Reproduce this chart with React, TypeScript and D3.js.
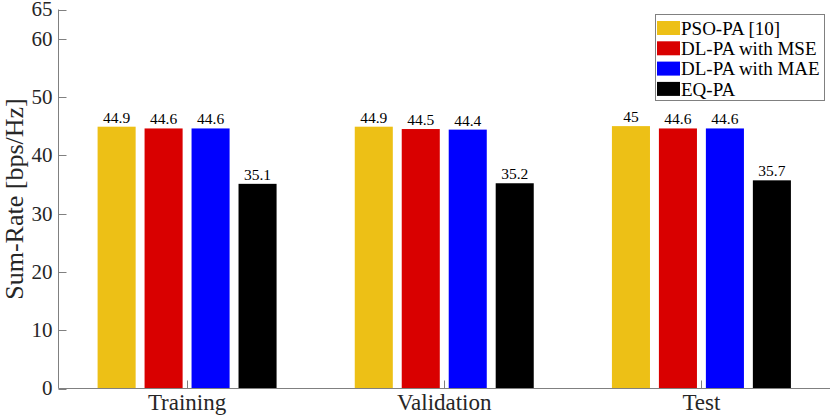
import { useEffect, useRef } from "react";
import * as d3 from "d3";

// categories and series
const categories = ["Training", "Validation", "Test"];
const seriesNames = ["PSO-PA [10]", "DL-PA with MSE", "DL-PA with MAE", "EQ-PA"];
const seriesColors = ["#EDC016", "#D90000", "#0000FF", "#000000"];

// values per series, one entry per category
const psoValues = [44.9, 44.9, 45];
const mseValues = [44.6, 44.5, 44.6];
const maeValues = [44.6, 44.4, 44.6];
const eqValues = [35.1, 35.2, 35.7];

const yTicks = [0, 10, 20, 30, 40, 50, 60, 65];

const App: React.FC = () => {
    const svgRef = useRef<SVGSVGElement>(null);

    useEffect(() => {
        document.body.style.margin = "0";
        const width = 830;
        const height = 418;
        const left = 58.5;
        const right = 830;
        const top = 9.5;
        const bottom = 388.5;
        const font = "'Liberation Serif', serif";
        const axisColor = "#808080";

        const svg = d3.select(svgRef.current);
        svg.selectAll("*").remove();
        svg.attr("width", width).attr("height", height);

        const allValues = [psoValues, mseValues, maeValues, eqValues];

        // x is a linear axis from 0.5 to 3.5 like the original
        const x = d3.scaleLinear().domain([0.5, 3.5]).range([left, right]);
        const y = d3.scaleLinear().domain([0, 65]).range([bottom, top]);
        const halfGroup = (x(2) - x(1)) * 0.348;

        // bars
        categories.forEach((c, ci) => {
            const cx = x(ci + 1);
            const inner = d3.scaleBand<string>()
                .domain(seriesNames)
                .range([cx - halfGroup, cx + halfGroup])
                .paddingInner(0.19)
                .paddingOuter(0);
            const g = svg.append("g");
            seriesNames.forEach((s, si) => {
                const v = allValues[si][ci];
                g.append("rect")
                    .attr("x", inner(s)!)
                    .attr("y", y(v))
                    .attr("width", inner.bandwidth())
                    .attr("height", y(0) - y(v))
                    .attr("fill", seriesColors[si]);
                g.append("text")
                    .attr("x", inner(s)! + inner.bandwidth() / 2)
                    .attr("y", y(v) - 4)
                    .attr("text-anchor", "middle")
                    .attr("font-family", font)
                    .attr("font-size", 15.5)
                    .attr("fill", "#000")
                    .text(String(v));
            });
        });

        // Y axis
        const yAxis = svg.append("g");
        yAxis.append("line")
            .attr("x1", left).attr("x2", left)
            .attr("y1", y(65)).attr("y2", y(0))
            .attr("stroke", axisColor);
        yTicks.forEach((t) => {
            yAxis.append("line")
                .attr("x1", left).attr("x2", left + 8)
                .attr("y1", Math.round(y(t)) + 0.5).attr("y2", Math.round(y(t)) + 0.5)
                .attr("stroke", axisColor);
            yAxis.append("text")
                .attr("x", left - 6)
                .attr("y", y(t))
                .attr("dy", "0.33em")
                .attr("text-anchor", "end")
                .attr("font-family", font)
                .attr("font-size", 21)
                .attr("fill", "#262626")
                .text(t);
        });

        // X axis
        const xAxis = svg.append("g");
        xAxis.append("line")
            .attr("x1", left).attr("x2", right)
            .attr("y1", bottom).attr("y2", bottom)
            .attr("stroke", axisColor);
        categories.forEach((c, ci) => {
            const cx = Math.round(x(ci + 1)) + 0.5;
            xAxis.append("line")
                .attr("x1", cx).attr("x2", cx)
                .attr("y1", bottom).attr("y2", bottom - 8)
                .attr("stroke", axisColor);
            xAxis.append("text")
                .attr("x", x(ci + 1))
                .attr("y", bottom + 21)
                .attr("text-anchor", "middle")
                .attr("font-family", font)
                .attr("font-size", 23)
                .attr("fill", "#262626")
                .text(c);
        });

        // Y label
        svg.append("text")
            .attr("transform", "translate(23," + (top + bottom) / 2 + ") rotate(-90)")
            .attr("text-anchor", "middle")
            .attr("font-family", font)
            .attr("font-size", 26)
            .attr("fill", "#262626")
            .text("Sum-Rate [bps/Hz]");

        // Legend
        const legend = svg.append("g");
        legend.append("rect")
            .attr("x", 655.5).attr("y", 14.5)
            .attr("width", 169).attr("height", 86)
            .attr("fill", "#fff")
            .attr("stroke", axisColor);
        seriesNames.forEach((s, si) => {
            const cy = 28 + si * 20.3;
            legend.append("rect")
                .attr("x", 657).attr("y", cy - 7)
                .attr("width", 23).attr("height", 14)
                .attr("fill", seriesColors[si]);
            legend.append("text")
                .attr("x", 681)
                .attr("y", cy)
                .attr("dy", "0.35em")
                .attr("font-family", font)
                .attr("font-size", 19)
                .attr("fill", "#000")
                .text(s);
        });
    }, []);

    return <svg ref={svgRef} style={{ display: "block" }}></svg>;
};

export default App;
